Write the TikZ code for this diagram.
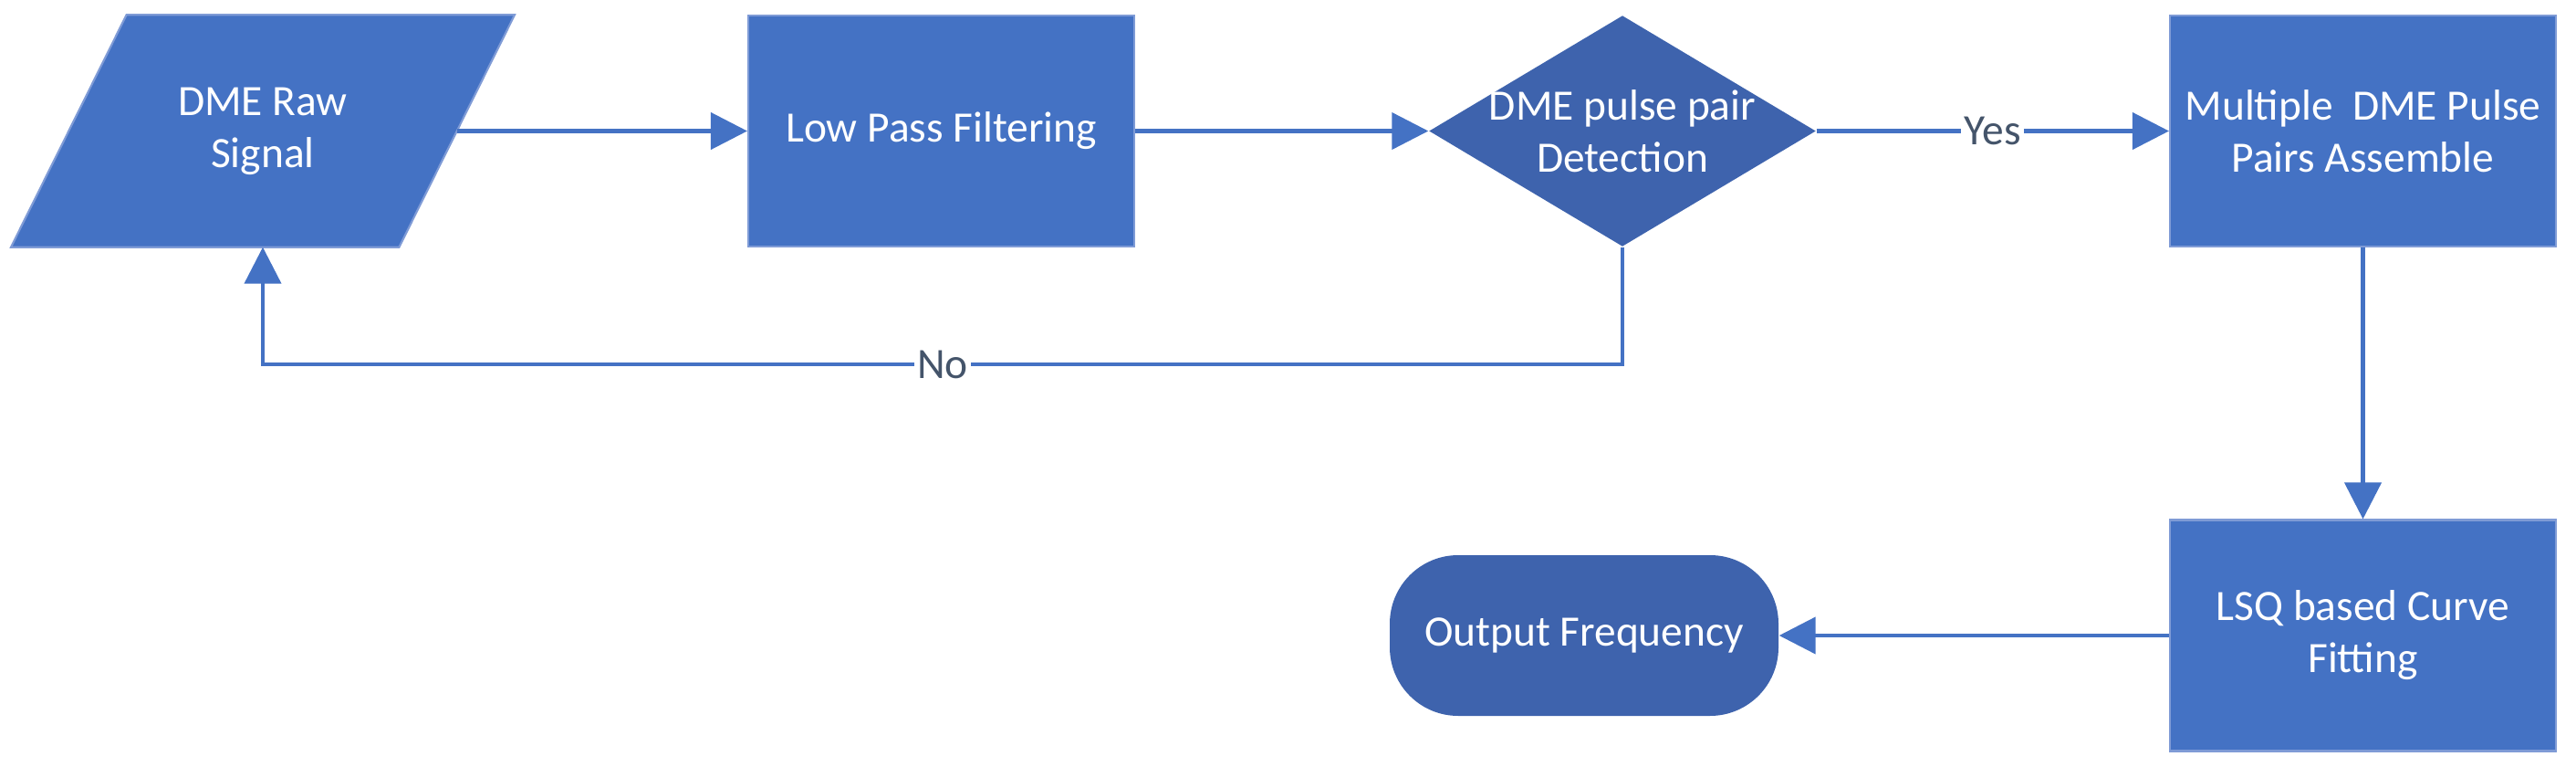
\documentclass[tikz,border=0pt]{standalone}
\usepackage{fontspec}
\setmainfont{Carlito}
\usetikzlibrary{shapes.geometric,arrows.meta,backgrounds}
\definecolor{boxblue}{HTML}{4472C4}
\definecolor{darkblue}{HTML}{3E63AD}
\definecolor{rimblue}{HTML}{7F9BD6}
\definecolor{lblgray}{HTML}{44546A}
\begin{document}
\begin{tikzpicture}[
	font=\fontsize{13.5}{16.2}\selectfont,
	block/.style={rectangle, fill=boxblue, draw=rimblue, line width=.6pt, text=white, align=center, minimum width=4.23cm, minimum height=2.53cm, inner sep=0pt},
	io/.style={rectangle, text=white, align=center, minimum width=4.24cm, minimum height=2.53cm, inner sep=0pt},
	decision/.style={diamond, fill=darkblue, minimum width=4.24cm, minimum height=2.53cm, inner sep=0pt},
	terminal/.style={rectangle, rounded corners=7.5mm, fill=darkblue, text=white, minimum width=4.26cm, minimum height=1.76cm},
	flow/.style={draw=boxblue, line width=1.2pt, -{Triangle[length=4mm,width=4mm]}},
	answer/.style={fill=white, text=lblgray, inner sep=1pt}
	]
	\useasboundingbox (0,0) rectangle (28.23,-8.4);

	\node[io] (raw) at (2.88,-1.435) {DME Raw\\Signal};
	\node[block] (lpf) at (10.315,-1.435) {Low Pass Filtering};
	\node[decision, label={[text=white, align=center]center:DME pulse pair\\Detection}] (det) at (17.78,-1.435) {};
	\node[block] (mult) at (25.895,-1.435) {Multiple\ \ DME Pulse\\Pairs Assemble};
	\node[block] (lsq) at (25.895,-6.96) {LSQ based Curve\\Fitting};
	\node[terminal] (out) at (17.36,-6.96) {Output Frequency};
	\coordinate (nocorner) at (17.78,-3.99);

	\begin{scope}[on background layer]
	\filldraw[fill=boxblue, draw=rimblue, line width=.6pt] ([xshift=-6.33mm]raw.south west) -- ([xshift=-6.33mm]raw.south east) -- ([xshift=6.33mm]raw.north east) -- ([xshift=6.33mm]raw.north west) -- cycle;
	\end{scope}

	\draw[flow] (raw) -- (lpf);
	\draw[flow] (lpf) -- (det);
	\draw[flow] (det) -- node[answer] {Yes} (mult);
	\draw[flow] (mult) -- (lsq);
	\draw[flow] (lsq) -- (out);
	\draw[flow] (det.south) -- (nocorner) -| node[answer, pos=.25] {No} (raw.south);
\end{tikzpicture}
\end{document}
